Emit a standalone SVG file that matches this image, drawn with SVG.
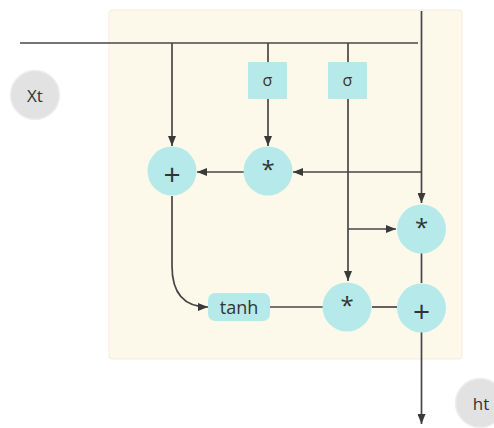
<svg xmlns="http://www.w3.org/2000/svg" width="494" height="428" viewBox="0 0 494 428">
  <style>
    .panel { fill: #fcf8ea; stroke: #fbe9dc; stroke-width: 1; }
    .op { fill: #b6eaea; }
    .io { fill: #e2e2e2; stroke: #eeeeee; stroke-width: 1.5; }
    .wire { fill: none; stroke: #474747; stroke-width: 1.7; }
    .lbl { font-family: "Open Sans", "Liberation Sans", sans-serif; fill: #333; text-anchor: middle; dominant-baseline: central; }
    .plus { font-size: 30px; }
    .star { font-size: 24px; }
    .sm { font-size: 16px; }
    .word { font-size: 18px; }
    .io-lbl { font-size: 17px; }
  </style>
  <defs>
    <marker id="arrow" viewBox="0 0 10 8" refX="10" refY="4" markerWidth="10" markerHeight="8" markerUnits="userSpaceOnUse" orient="auto">
      <path d="M0,0 L10,4 L0,8 Z" fill="#3a3a3a"/>
    </marker>
  </defs>

  <rect class="panel" x="109" y="10" width="353" height="349" rx="3"/>

  <g id="connectors">
    <path class="wire" d="M20,43 H418"/>
    <path class="wire" d="M421.5,11 V203" marker-end="url(#arrow)"/>
    <path class="wire" d="M172,43 V146" marker-end="url(#arrow)"/>
    <path class="wire" d="M268,43 V62"/>
    <path class="wire" d="M268,99 V146" marker-end="url(#arrow)"/>
    <path class="wire" d="M348,43 V62"/>
    <path class="wire" d="M348,99 V281" marker-end="url(#arrow)"/>
    <path class="wire" d="M421.5,172 H293" marker-end="url(#arrow)"/>
    <path class="wire" d="M244,172 H197" marker-end="url(#arrow)"/>
    <path class="wire" d="M348,229 H396" marker-end="url(#arrow)"/>
    <path class="wire" d="M172,196 V266 Q172,307 208,307" marker-end="url(#arrow)"/>
    <path class="wire" d="M270,307 H323"/>
    <path class="wire" d="M372,307 H397"/>
    <path class="wire" d="M421.5,253 V283"/>
    <path class="wire" d="M421.5,331 V424" marker-end="url(#arrow)"/>
  </g>

  <g id="xt">
    <circle class="io" cx="35" cy="95" r="24.5"/>
    <text class="lbl io-lbl" x="35" y="95">Xt</text>
  </g>
  <g id="ht">
    <circle class="io" cx="480" cy="403" r="24.5"/>
    <text class="lbl io-lbl" x="481" y="403">ht</text>
  </g>

  <g id="sigma-forget">
    <rect class="op" x="248" y="62" width="39" height="37"/>
    <text class="lbl sm" x="267.5" y="80">σ</text>
  </g>
  <g id="sigma-input">
    <rect class="op" x="328" y="62" width="39" height="37"/>
    <text class="lbl sm" x="347.5" y="80">σ</text>
  </g>

  <g id="add-cell">
    <circle class="op" cx="172" cy="171" r="24.5"/>
    <text class="lbl plus" x="172" y="173">+</text>
  </g>
  <g id="mul-forget">
    <circle class="op" cx="268" cy="171" r="24.5"/>
    <text class="lbl star" x="268" y="168">*</text>
  </g>
  <g id="mul-gate">
    <circle class="op" cx="421.5" cy="229" r="24.5"/>
    <text class="lbl star" x="421.5" y="226">*</text>
  </g>

  <g id="tanh">
    <rect class="op" x="208" y="293" width="62" height="28" rx="7"/>
    <text class="lbl word" x="239" y="307">tanh</text>
  </g>
  <g id="mul-out">
    <circle class="op" cx="347" cy="307" r="24.5"/>
    <text class="lbl star" x="347" y="304">*</text>
  </g>
  <g id="add-out">
    <circle class="op" cx="421.5" cy="308" r="24.5"/>
    <text class="lbl plus" x="421.5" y="310">+</text>
  </g>
</svg>
